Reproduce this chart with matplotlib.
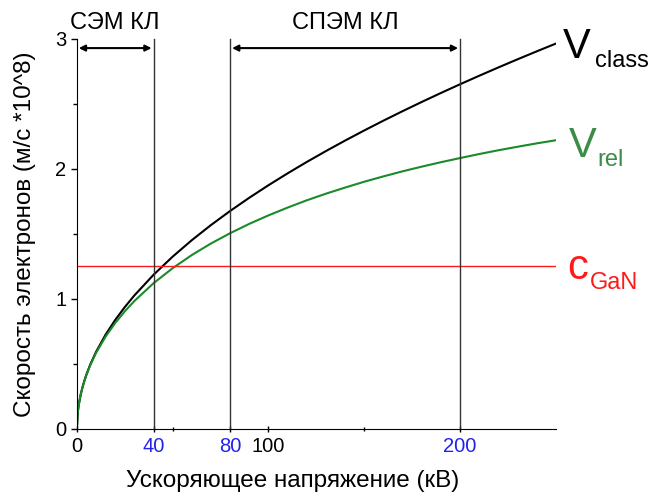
import matplotlib.pyplot as plt

plt.rcParams['font.family'] = ['Liberation Sans', 'DejaVu Sans']

# accelerating voltage, kV
voltage = [0, 0.5, 1, 2, 3, 4, 5, 7, 10, 15, 20, 25, 30, 40, 50, 60, 70, 80, 90, 100, 110, 120,
           130, 140, 150, 160, 170, 180, 190, 200, 210, 220, 230, 240, 250]
# electron speed, 10^8 m/s
v_class = [0, 0.1326, 0.1875, 0.2652, 0.3248, 0.375, 0.4193, 0.4961, 0.5929, 0.7262, 0.8385,
           0.9375, 1.027, 1.1859, 1.3258, 1.4524, 1.5687, 1.6771, 1.7788, 1.875, 1.9665, 2.054,
           2.1378, 2.2185, 2.2964, 2.3717, 2.4447, 2.5156, 2.5845, 2.6517, 2.7171, 2.7811,
           2.8436, 2.9047, 2.9646]
v_rel = [0, 0.132, 0.187, 0.265, 0.323, 0.373, 0.416, 0.491, 0.585, 0.711, 0.815, 0.905, 0.984,
         1.121, 1.237, 1.338, 1.427, 1.506, 1.578, 1.643, 1.703, 1.759, 1.810, 1.857, 1.902,
         1.943, 1.982, 2.018, 2.052, 2.084, 2.115, 2.144, 2.171, 2.197, 2.221]
c_gan = 1.25

mode_lines = [40, 80, 200]
regions = [(0, 40, 'СЭМ КЛ'), (80, 200, 'СПЭМ КЛ')]
xticks_black = [0, 100]
xticks_blue = [40, 80, 200]

fig = plt.figure(figsize=(6.57, 4.98), dpi=100)
ax = fig.add_axes([0.117, 0.1386, 0.729, 0.7831])

ax.plot(voltage, v_class, color='black', lw=1.5)
ax.plot(voltage, v_rel, color='#1a8a2a', lw=1.5)
ax.axhline(c_gan, color='#ff1a1a', lw=1.0)

for x in mode_lines:
    ax.plot([x, x], [0, 3.0], color='#333333', lw=1.0, clip_on=False)

for x0, x1, name in regions:
    ax.annotate('', xy=(x0 + 1, 2.93), xytext=(x1 - 1, 2.93),
                arrowprops=dict(arrowstyle='<|-|>', color='black', lw=1.5,
                                mutation_scale=9, shrinkA=0, shrinkB=0),
                annotation_clip=False)
    ax.text((x0 + x1) / 2, 3.12, name, ha='center', va='center', fontsize=17)

ax.set_xlim(0, 250)
ax.set_ylim(0, 3)
ax.spines['top'].set_visible(False)
ax.spines['right'].set_visible(False)

all_ticks = sorted(xticks_black + xticks_blue)
ax.set_xticks(all_ticks)
ax.set_xticklabels([str(t) for t in all_ticks])
for lab, t in zip(ax.get_xticklabels(), all_ticks):
    if t in xticks_blue:
        lab.set_color('#2222ee')
ax.set_xticks([50, 150], minor=True)
ax.set_yticks([0, 1, 2, 3])
ax.set_yticks([0.5, 1.5, 2.5], minor=True)
ax.tick_params(axis='both', which='major', labelsize=14.5, length=4, width=1)
ax.tick_params(axis='both', which='minor', length=3, width=1)
ax.tick_params(axis='x', which='both', direction='inout')

ax.set_xlabel('Ускоряющее напряжение (кВ)', fontsize=17.5)
ax.xaxis.set_label_coords(0.451, -0.105)
ax.set_ylabel('Скорость электронов (м/с *10^8)', fontsize=17.5)
ax.yaxis.set_label_coords(-0.085, 0.5)

# curve labels
fig.text(0.857, 0.905, 'V', fontsize=30, va='center', ha='left')
fig.text(0.906, 0.878, 'class', fontsize=17, va='center', ha='left')
fig.text(0.866, 0.706, 'V', fontsize=30, va='center', ha='left', color='#3c8c48')
fig.text(0.910, 0.678, 'rel', fontsize=17, va='center', ha='left', color='#3c8c48')
fig.text(0.864, 0.462, 'c', fontsize=30, va='center', ha='left', color='#ff1a1a')
fig.text(0.898, 0.432, 'GaN', fontsize=17, va='center', ha='left', color='#ff1a1a')

fig.savefig('out.png', dpi=100)
